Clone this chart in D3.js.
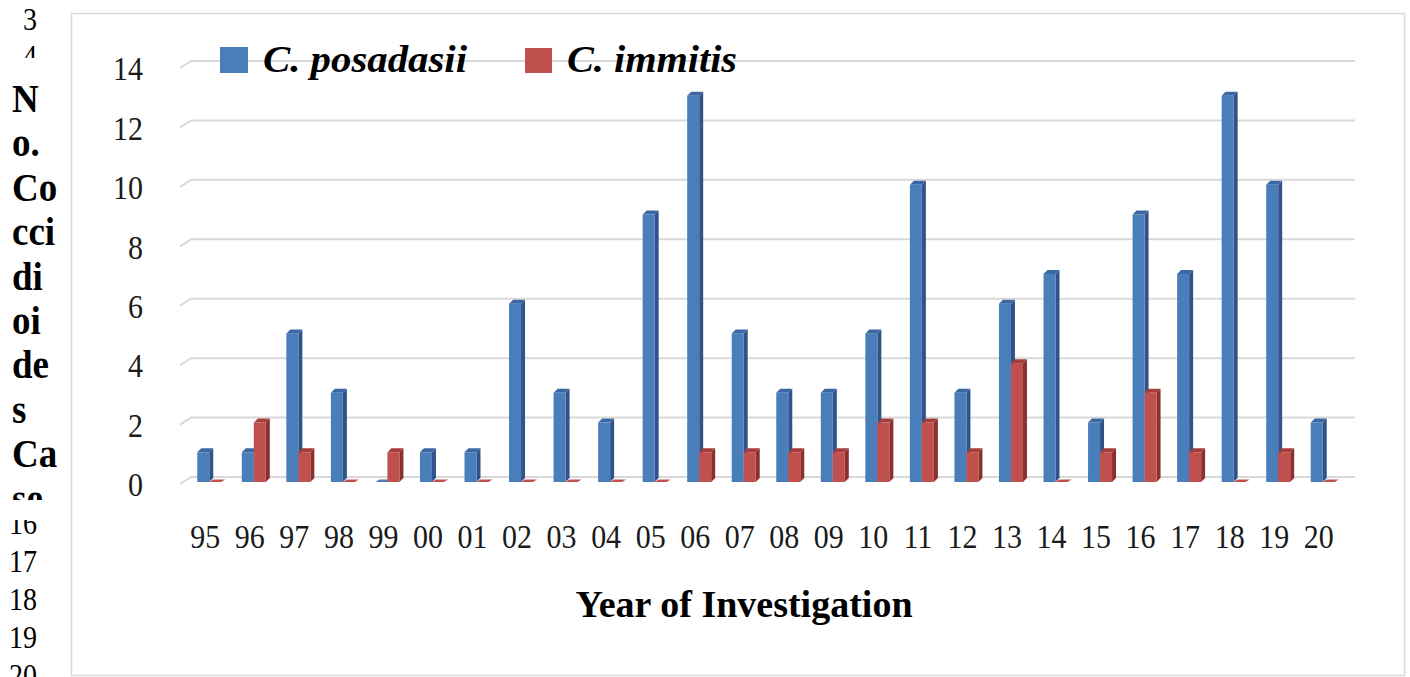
<!DOCTYPE html>
<html><head><meta charset="utf-8">
<script src="https://cdn.jsdelivr.net/npm/d3@7"></script>
<style>html,body{margin:0;padding:0;background:#fff;}svg{display:block;}</style>
</head><body>
<svg id="chart" width="1410" height="677"></svg>
<script>
// ---- data ----
const years = ["95","96","97","98","99","00","01","02","03","04","05","06","07","08","09","10","11","12","13","14","15","16","17","18","19","20"];
const posadasii = [1,1,5,3,0,1,1,6,3,2,9,13,5,3,3,5,10,3,6,7,2,9,7,13,10,2];
const immitis   = [0,2,1,0,1,0,0,0,0,0,0,1,1,1,1,2,2,1,4,0,1,3,1,0,1,0];
const seriesNames = ["C. posadasii","C. immitis"];
const yTicks = [0,2,4,6,8,10,12,14];
const xTitle = "Year of Investigation";
const yTitleLines = ["N","o.","Co","cci","di","oi","de","s","Ca","se"];
const lineNumsTop = ["3","4"];
const lineNumsBottom = ["16","17","18","19","20"];

// ---- layout ----
const svg = d3.select("#chart");
const colors = {
  blue:{front:"#4a7ebb", side:"#30548a", top:"#3b68a3"},
  red:{front:"#c0504d", side:"#8c302e", top:"#a63d3a"}
};
const x = d3.scaleBand().domain(years).range([183,1341]);
const yBack = d3.scaleLinear().domain([0,14]).range([477,61]);
const depthX = 4, depthY = 4, frontOffset = 5;
const barW = 12;
const serif = "'Liberation Serif','Times New Roman',serif";

// border
svg.append("rect").attr("x",71.5).attr("y",13.5).attr("width",1333).attr("height",662)
  .attr("fill","#fff").attr("stroke","#d9d9d9").attr("stroke-width",1.5);

// gridlines with 3D left wall edge
svg.append("g").selectAll("path").data(yTicks).join("path")
  .attr("d",d=>{const y=yBack(d);return `M180,${y+7}L191,${y}L1355,${y}`;})
  .attr("fill","none").attr("stroke","#d9d9d9").attr("stroke-width",2);

// y axis labels
const yAxis = svg.append("g").attr("transform","translate(143,8)")
  .call(d3.axisLeft(yBack).tickValues(yTicks).tickSize(0).tickPadding(0));
yAxis.select(".domain").remove();
yAxis.selectAll("text").attr("font-family",serif).attr("font-size",30).attr("fill","#1a1a1a")
  .attr("transform","scale(1,1.12)");

// x axis labels
const xAxis = svg.append("g").attr("transform","translate(0,525)")
  .call(d3.axisBottom(x).tickSize(0).tickPadding(0));
xAxis.select(".domain").remove();
xAxis.selectAll("text").attr("font-family",serif).attr("font-size",30).attr("fill","#1a1a1a")
  .attr("transform","scale(1,1.1)");

// 3D bars
function bar3d(g, x0, v, c){
  const base = yBack(0)+frontOffset;
  const top = yBack(v)+frontOffset;
  if (v>0){
    g.append("path").attr("d",`M${x0+barW},${top}L${x0+barW+depthX},${top-depthY}L${x0+barW+depthX},${base-depthY}L${x0+barW},${base}Z`).attr("fill",c.side);
    g.append("rect").attr("x",x0).attr("y",top).attr("width",barW).attr("height",base-top).attr("fill",c.front);
  }
  g.append("path").attr("d",`M${x0},${top}L${x0+depthX},${top-(v>0?depthY:2.5)}L${x0+barW+depthX},${top-(v>0?depthY:2.5)}L${x0+barW},${top}Z`).attr("fill",v>0?c.top:c.front);
}
const bars = svg.append("g");
years.forEach((yr,i)=>{
  const c = x(yr)+x.bandwidth()/2;
  const g = bars.append("g");
  bar3d(g, c-8, posadasii[i], colors.blue);
  bar3d(g, c+4, immitis[i], colors.red);
});

// legend
const leg = svg.append("g");
leg.append("rect").attr("x",220).attr("y",47).attr("width",28).attr("height",26).attr("fill",colors.blue.front);
leg.append("text").attr("x",263).attr("y",72).text(seriesNames[0])
  .attr("font-family",serif).attr("font-weight","bold").attr("font-style","italic")
  .attr("font-size",38).attr("textLength",204).attr("lengthAdjust","spacingAndGlyphs");
leg.append("rect").attr("x",525).attr("y",48).attr("width",27).attr("height",25).attr("fill",colors.red.front);
leg.append("text").attr("x",567).attr("y",72).text(seriesNames[1])
  .attr("font-family",serif).attr("font-weight","bold").attr("font-style","italic")
  .attr("font-size",38).attr("textLength",170).attr("lengthAdjust","spacingAndGlyphs");

// x title
svg.append("text").attr("x",744).attr("y",617).attr("text-anchor","middle").text(xTitle)
  .attr("font-family",serif).attr("font-weight","bold").attr("font-size",38);

// left margin: line numbers and wrapped y title
const ln = svg.append("g").attr("font-family",serif).attr("font-size",28).attr("text-anchor","end");
ln.selectAll(".t").data(lineNumsTop).join("text")
  .attr("transform",(d,i)=>`translate(37,${30+i*37}) scale(1,1.1)`).text(d=>d);
ln.selectAll(".b").data(lineNumsBottom).join("text")
  .attr("transform",(d,i)=>`translate(37,${534+i*38}) scale(1,1.1)`).text(d=>d);
svg.append("rect").attr("x",0).attr("y",58).attr("width",70).attr("height",462).attr("fill","#fff");
const defs = svg.append("defs");
defs.append("clipPath").attr("id","ytclip").append("rect").attr("x",0).attr("y",58).attr("width",70).attr("height",442);
svg.append("g").attr("clip-path","url(#ytclip)")
  .attr("font-family",serif).attr("font-weight","bold").attr("font-size",37)
  .selectAll("text").data(yTitleLines).join("text")
  .attr("transform",(d,i)=>`translate(12,${112+i*44.4}) scale(1,1.1)`).text(d=>d);
</script>
</body></html>
